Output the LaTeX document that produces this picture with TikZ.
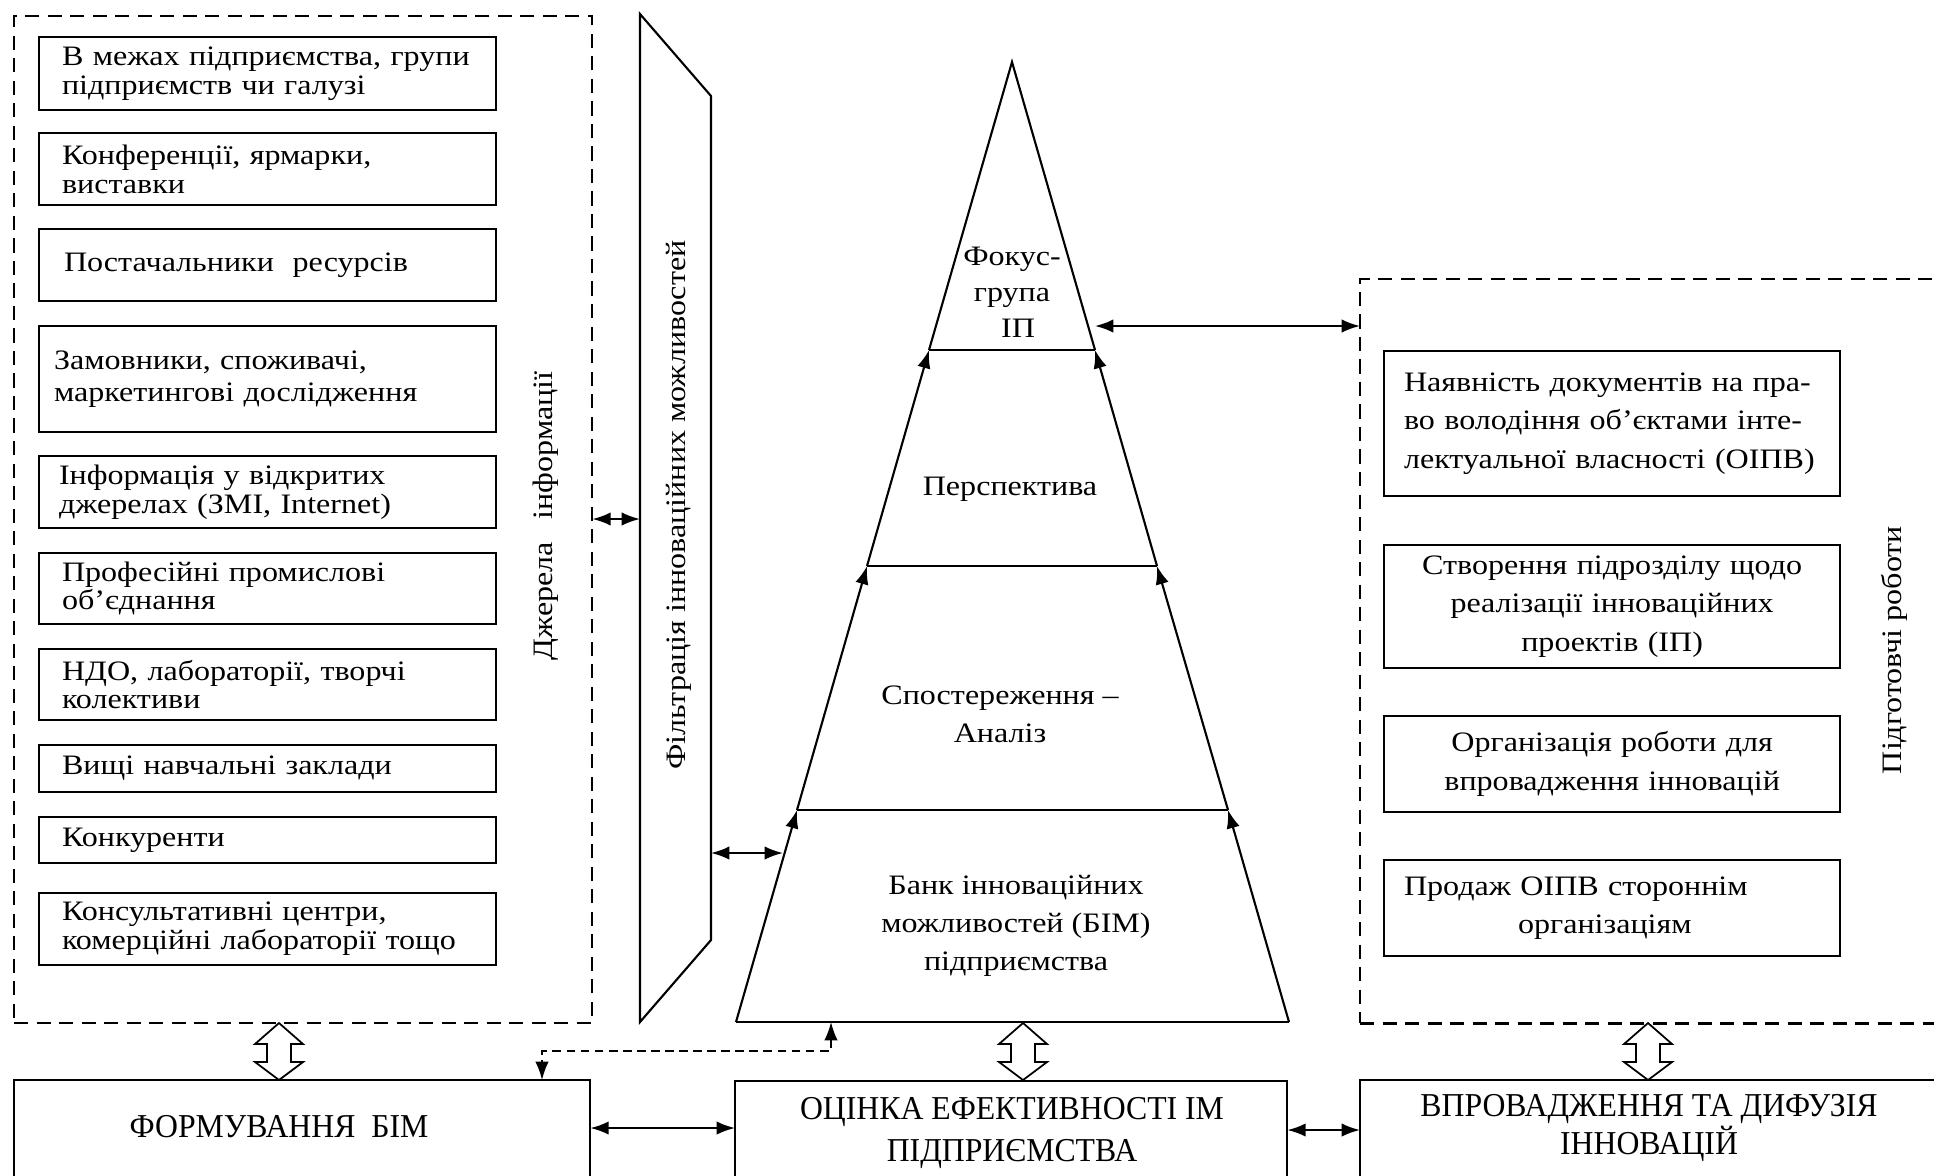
\documentclass[tikz,border=0pt]{standalone}
\usepackage{fontspec}
\setmainfont{Liberation Serif}[FakeStretch=1.14]
\newfontfamily\capsfont{Liberation Serif}[FakeStretch=0.95]
\usetikzlibrary{arrows.meta}
\tikzset{ltx/.tip={Latex[length=5.2pt,width=3.8pt]}}
\newcommand\hollowdbl[3]{%
  \draw[line width=0.5pt,fill=white,line join=miter] (#1,#2) -- (#1+24,#2+21) -- (#1+12,#2+21) -- (#1+12,#3-18) -- (#1+24,#3-18) -- (#1,#3) -- (#1-24,#3-18) -- (#1-12,#3-18) -- (#1-12,#2+21) -- (#1-24,#2+21) -- cycle;}
\begin{document}
\begin{tikzpicture}[x=0.01cm,y=-0.01cm,
  every node/.style={inner sep=0pt,outer sep=0pt},
  lw/.style={line width=0.6pt},
  frame/.style={draw,line width=0.6pt,dash pattern=on 4pt off 2.4pt,anchor=north west},
  srcbox/.style={draw,lw,anchor=north west,minimum width=4.57cm,text width=4.11cm,inner xsep=0.23cm,align=left,font=\fontsize{8pt}{8.2pt}\selectfont},
  prepbox/.style={draw,lw,anchor=north west,minimum width=4.56cm,text width=4.16cm,inner xsep=0.2cm,font=\fontsize{8pt}{10.9pt}\selectfont},
  bigbox/.style={draw,lw,anchor=north west,minimum height=1.4cm},
  ptxt/.style={align=center,font=\fontsize{8pt}{10.8pt}\selectfont},
  captxt/.style={align=center,font=\capsfont\fontsize{9.5pt}{12.2pt}\selectfont},
  vtxt/.style={rotate=90,font=\fontsize{8pt}{9pt}\selectfont},
  dar/.style={lw,ltx-ltx},
  sar/.style={lw,-ltx},
  dotc/.style={line width=0.5pt,dash pattern=on 2.5pt off 1.5pt,ltx-ltx}
]
\useasboundingbox (0,0) rectangle (1934,1175);
\clip (0,0) rectangle (1934,1175);

% ---------- sources of information ----------
\node[frame,minimum width=5.78cm,minimum height=10.06cm] (srcframe) at (14,16) {};
\node[srcbox,minimum height=0.73cm] (s1) at (39,37) {В межах підприємства, групи\\підприємств чи галузі};
\node[srcbox,minimum height=0.72cm] (s2) at (39,133) {Конференції, ярмарки,\\виставки};
\node[srcbox,minimum height=0.72cm,inner xsep=0.25cm,text width=4.07cm] (s3) at (39,229) {Постачальники\ \ ресурсів};
\node[srcbox,minimum height=1.06cm,inner xsep=0.15cm,text width=4.27cm,font=\fontsize{8pt}{9.1pt}\selectfont] (s4) at (39,326) {Замовники, споживачі,\\маркетингові дослідження};
\node[srcbox,minimum height=0.72cm,inner xsep=0.2cm,text width=4.17cm] (s5) at (39,456) {Інформація у відкритих\\джерелах (ЗМІ, Internet)};
\node[srcbox,minimum height=0.71cm] (s6) at (39,553) {Професійні промислові\\об’єднання};
\node[srcbox,minimum height=0.71cm] (s7) at (39,649) {НДО, лабораторії, творчі\\колективи};
\node[srcbox,minimum height=0.47cm] (s8) at (39,745) {Вищі навчальні заклади};
\node[srcbox,minimum height=0.46cm] (s9) at (39,817) {Конкуренти};
\node[srcbox,minimum height=0.72cm] (s10) at (39,893) {Консультативні центри,\\комерційні лабораторії тощо};
\node[vtxt] (srclabel) at (546,516) {Джерела\hspace{0.8em}інформації};

% ---------- filter ----------
\draw[lw] (640,14) -- (711,96) -- (711,940) -- (640,1022) -- cycle;
\node[vtxt] (filtlabel) at (679,505) {Фільтрація інноваційних можливостей};
\coordinate (fL) at (640,519);
\coordinate (fR) at (711,853);

% ---------- pyramid ----------
\coordinate (apex) at (1012,62);
\coordinate (L1) at (929,350);  \coordinate (R1) at (1095,350);
\coordinate (L2) at (867,566);  \coordinate (R2) at (1157,566);
\coordinate (L3) at (797,810);  \coordinate (R3) at (1228,810);
\coordinate (BL) at (736,1022); \coordinate (BR) at (1289,1022);
\draw[lw] (BL) -- (BR);
\draw[lw] (L3) -- (R3);
\draw[lw] (L2) -- (R2);
\draw[lw] (L1) -- (R1);
\draw[lw] (L1) -- (apex) -- (R1);
\draw[sar] (BL) -- (L3);
\draw[sar] (L3) -- (L2);
\draw[sar] (L2) -- (L1);
\draw[sar] (BR) -- (R3);
\draw[sar] (R3) -- (R2);
\draw[sar] (R2) -- (R1);
\node[ptxt,font=\fontsize{8pt}{10.2pt}\selectfont] (focus) at (1012,292) {Фокус-\\група\\\hspace*{3.4pt}ІП};
\node[ptxt] (persp) at (1010,489) {Перспектива};
\node[ptxt] (obs) at (1000,714) {Спостереження –\\Аналіз};
\node[ptxt] (bank) at (1016,926) {Банк інноваційних\\можливостей (БІМ)\\підприємства};
\coordinate (pyrL) at (783,853);
\coordinate (pyrR) at (1095,326);
\coordinate (pbase) at (831,1022);

% ---------- preparatory works ----------
\node[frame,minimum width=6cm,minimum height=7.44cm] (prepframe) at (1360,279) {};
\node[prepbox,minimum height=1.45cm,align=left] (p1) at (1384,351) {Наявність документів на пра-\\во володіння об’єктами інте-\\лектуальної власності (ОІПВ)};
\node[prepbox,minimum height=1.23cm,align=center] (p2) at (1384,545) {Створення підрозділу щодо\\реалізації інноваційних\\проектів (ІП)};
\node[prepbox,minimum height=0.96cm,align=center] (p3) at (1384,716) {Організація роботи для\\впровадження інновацій};
\node[prepbox,minimum height=0.96cm,align=left] (p4) at (1384,860) {Продаж ОІПВ стороннім\\\hspace*{1.14cm}організаціям};
\node[vtxt] (preplabel) at (1894,650) {Підготовчі роботи};

% ---------- bottom row ----------
\node[bigbox,minimum width=5.76cm] (fbim) at (14,1080) {};
\node[bigbox,minimum width=5.52cm] (ocin) at (735,1081) {};
\node[bigbox,minimum width=6cm] (vpr) at (1360,1080) {};
\node[captxt] (fbimt) at (279,1127) {ФОРМУВАННЯ\ \ БІМ};
\node[captxt] (ocint) at (1012,1133) {ОЦІНКА ЕФЕКТИВНОСТІ ІМ\\ПІДПРИЄМСТВА};
\node[captxt,font=\capsfont\fontsize{9.5pt}{10.6pt}\selectfont] (vprt) at (1649,1128) {ВПРОВАДЖЕННЯ ТА ДИФУЗІЯ\\ІННОВАЦІЙ};

% ---------- connectors ----------
\coordinate (yA) at (0,1128);
\coordinate (yB) at (0,1130);
\coordinate (yC) at (0,326);
\coordinate (fdot) at (542,1080);
\draw[dar] (srcframe.east |- fL) -- (fL);
\draw[dar] (fR) -- (pyrL);
\draw[dar] (pyrR) -- (prepframe.west |- yC);
\draw[dar] (fbim.east |- yA) -- (ocin.west |- yA);
\draw[dar] (ocin.east |- yB) -- (vpr.west |- yB);
\draw[dotc] (pbase) -- (831,1051) -| (fdot);
\hollowdbl{279}{1023}{1080}
\hollowdbl{1023}{1023}{1080}
\hollowdbl{1648}{1023}{1080}
\end{tikzpicture}
\end{document}
